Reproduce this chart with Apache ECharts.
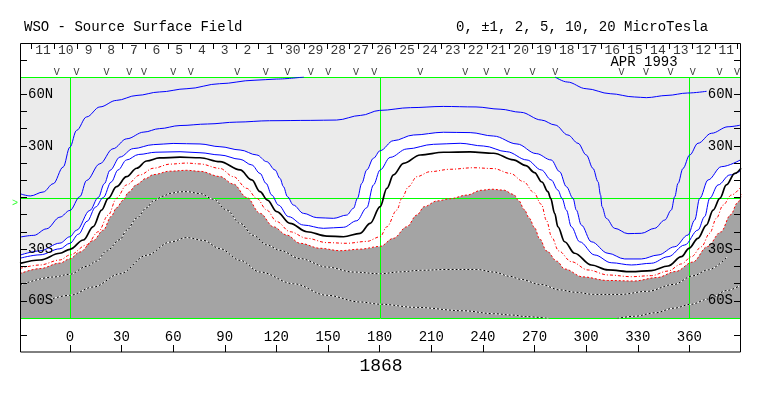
<!DOCTYPE html>
<html>
<head>
<meta charset="utf-8">
<title>WSO - Source Surface Field</title>
<script src="https://cdn.jsdelivr.net/npm/echarts@6/dist/echarts.min.js"></script>
<style>
  html, body { margin: 0; padding: 0; background: #fff; }
  #chart { width: 763px; height: 396px; }
</style>
</head>
<body>
<div id="chart"></div>
<script>
// contour lines, [carrington longitude, latitude]
var c10a = [[-29,2.2],[-23,0.9],[-15.5,3.2],[-9.7,8],[-3.9,17.7],[0,29.3],[3.9,39],[9.7,46.8],[17.4,52.6],[27,56.4],[39,59.3],[52,61.3],[68,63.2],[87,66.1],[107,68.1],[120,68.8],[136,70]];
var c10b = [[282,70],[289,67.1],[300,63.2],[314,60.3],[328,58.4],[335,58],[347,59.3],[359,60.7],[370,61.7]];
var c5 = [[-29,-23],[-21,-22],[-13.6,-18.2],[-5.8,-11.4],[0,-7.5],[5.8,0.5],[9.7,9.9],[17.4,19.6],[25,28.3],[33,34.1],[43,38],[52,40],[64,41.8],[80,42.7],[97,43.8],[116,44.6],[140,44.8],[155,45],[169,47.7],[180,50.6],[198,52.2],[217,52.9],[236,52.6],[250,51.3],[262,49.5],[274,45],[282,42.1],[289.4,36.3],[295.3,31.5],[300.1,24.7],[304,16.9],[306.9,9.2],[308.4,1.4],[309.2,-5.3],[311.7,-12.1],[316.6,-17.9],[324.3,-21],[332.1,-20.8],[339.8,-17.9],[345.7,-13.1],[349.5,-7.3],[351.5,0.5],[353.4,8.2],[356.3,16.9],[360.2,24.7],[365,31.5],[372.8,37.3],[382.5,41.1],[390,42.1]];
var c2 = [[-29,-33.5],[-17.4,-31],[-5.8,-26.5],[0,-22.8],[3.9,-19],[11.6,-7.5],[16.5,0],[20,8],[23.3,15.8],[29.1,23.5],[36.8,28.4],[48.5,30.7],[60,31.4],[75.6,31.1],[87.2,29.5],[98.9,27.6],[108.6,24.7],[114.4,20.8],[119.2,16],[122.1,11.1],[124.1,6.3],[126.4,0.5],[129.9,-4.4],[135.7,-9.2],[143.5,-11.7],[153.2,-12.1],[160.9,-10.2],[164.8,-6.3],[167.1,-0.5],[169.6,8.2],[172.5,16],[176.4,22.8],[180.3,27.2],[188,33],[199.7,36.3],[217.1,37.9],[232.6,37.7],[246.2,35.7],[259.8,31.1],[271,25.5],[279.7,21.8],[284.6,15],[288.5,6.3],[292.4,-0.5],[294.3,-7.3],[297.2,-16],[303,-25.7],[312.7,-32.4],[322.4,-35.7],[332.1,-35.7],[341.8,-33.4],[351.5,-28.6],[359.2,-21.8],[363.1,-13.1],[366,-0.5],[370.9,10.2],[378.6,17.9],[390,22]];
var c1 = [[-29,-35.3],[-17.4,-33.3],[-5.8,-29.8],[0,-26.6],[5,-21.3],[10,-13.8],[15,-5.5],[19.4,0],[24,9],[28,16],[32.9,21.8],[40,25],[50,26.3],[64,26.6],[75.6,26],[87.2,24.7],[98.9,22.2],[105.7,18.9],[110.5,14],[114,8.2],[117.3,1.4],[121.2,-4.4],[127,-11.1],[135.7,-16],[147.3,-17.9],[159,-17.3],[166.7,-13.5],[172.5,-6],[176.4,7.3],[180.3,16],[186.1,23.3],[195.8,28.2],[211.3,30.9],[226.8,31.5],[240.4,29.9],[253.9,26.6],[265.6,21.8],[274,16],[279.7,10.2],[283.6,4.3],[286,-0.5],[288.5,-7.3],[291.4,-17],[296.2,-25.7],[305,-33.4],[314.6,-37.9],[326.3,-39.2],[337.9,-38.2],[347.6,-34.4],[357.3,-27.6],[365,-18.9],[368.9,-11.1],[371.8,-0.5],[376.7,7.3],[383.5,13.1],[390,15.5]];
var c0 = [[-29,-38.3],[-17.4,-36.3],[-5.8,-32.4],[0,-30.1],[7.8,-24.7],[13.6,-16.9],[18.4,-7.3],[22.3,-0.5],[27.1,6.3],[32.9,12.1],[38.8,17],[44.6,21.2],[52,23],[64,23.4],[75.6,23.1],[87.2,20.8],[98.9,16],[105.7,10.2],[110.5,3.4],[114.8,-1.5],[120.2,-8.2],[128,-15],[137.7,-19.9],[149.3,-22.4],[159,-22.8],[168.7,-20.8],[174.5,-15],[180.3,-5.3],[184.2,5.3],[188,13.1],[193.9,19.8],[203.6,24.7],[217.1,26.3],[232.6,26.5],[246.2,25.7],[257.8,21.8],[265,18.5],[270,14.5],[274.3,9],[277.8,3.4],[279.4,-0.5],[281.7,-9.2],[283.6,-17],[287.5,-25.7],[293.3,-32.4],[303,-39.2],[312.7,-42.1],[326.3,-43.1],[337.9,-42.5],[347.6,-39.8],[355.4,-34.4],[359.8,-29.5],[365,-23.7],[369.9,-16],[373.8,-7.3],[377.7,-0.5],[381.5,7.3],[386.4,14],[390,17]];
var cm1 = [[-29,-41.2],[-17.4,-39.2],[-5.8,-36.3],[0,-33.4],[9.7,-27.6],[16.5,-19.9],[22.3,-10.2],[27.1,-0.5],[32.9,7.3],[40.7,13.1],[48.5,17],[58.2,19.4],[67.9,20],[75.6,19.5],[87.2,16.9],[95,12.1],[102.8,5.3],[108.6,-0.5],[114.4,-7.3],[120.2,-14],[128,-19.9],[137.7,-23.7],[149.3,-26.2],[160.9,-26.6],[172.5,-25.5],[180.3,-22.8],[184.2,-17],[190,-7.3],[192.9,-0.5],[196.8,6.3],[201.6,12.1],[209.4,15],[221,16.4],[234.6,17.3],[246.2,16.8],[255.9,14],[263.7,9.2],[269.5,3],[274,-4],[277,-13.5],[280,-23],[284,-31],[291.4,-37.3],[301.1,-42.1],[312.7,-45],[326.3,-46],[337.9,-45.4],[347.6,-42.7],[355.4,-38.6],[361.2,-34.4],[367,-28.6],[371.8,-20.8],[375.7,-12.1],[379.6,-4.4],[384.4,1.4],[390,6.3]];
var cm2 = [[-29,-44.2],[-17.4,-41.3],[-5.8,-38.1],[0,-35.6],[5.8,-31.7],[13.6,-25],[19.4,-19],[24,-11],[27.1,-6],[31,-1.5],[34,3],[38.8,7.5],[44,11],[48.5,13.3],[58.2,15.3],[67.9,15.8],[75.6,15.2],[87.2,12.2],[95,7.8],[102.8,0],[110.5,-9.2],[118.3,-17],[126,-21.8],[133.8,-26.6],[145.4,-29.5],[157,-30.9],[168.7,-30],[180.3,-28.4],[188,-23.7],[195.8,-17],[201.6,-10.2],[206,-5.3],[213.3,-2],[221,-0.7],[230.7,1.4],[239,4.2],[245,4.8],[252,4.3],[257.8,1.8],[261,-2],[264,-7],[267,-12],[270,-17.5],[273,-24],[277,-31],[283,-37],[287.5,-41.5],[298,-46.1],[312.4,-48.2],[328,-48.5],[341.2,-46.5],[352,-43],[362,-37.5],[370.5,-28.5],[378.3,-20],[384,-10],[388,-3],[390.5,2]];
var cm5 = [[-29,-50.9],[-9.7,-46.2],[0,-44.6],[9.7,-40],[15.5,-37],[21.3,-31],[29.1,-24.5],[33,-19],[38.8,-12],[44.6,-6],[48.5,-2],[54.3,0.8],[58.2,2.4],[64,3.3],[67.9,3.4],[75.6,2.3],[83.4,-1],[91.1,-7.3],[98.9,-15],[106.6,-22],[114.4,-27.5],[122.1,-30.7],[133.8,-35.5],[149.3,-40.4],[164.8,-43.3],[180.3,-44.3],[191.9,-43.2],[203.6,-42.3],[219.1,-41.8],[236.5,-41.8],[246.2,-43.3],[255.9,-45.8],[261.7,-47.5],[273.4,-50.5],[285,-53.7],[293.3,-55],[304.4,-56.3],[319.9,-56.3],[335.4,-54.5],[350.9,-50.5],[362,-45.5],[371,-42],[382,-34.5]];
var cm10a = [[-12,-59.3],[0,-56.8],[13.6,-52],[29.1,-44.3],[44.6,-33.6],[58.2,-25.9],[67.9,-23.3],[77.6,-24.9],[87.2,-29.7],[98.9,-36.5],[110.5,-43.3],[129.9,-50.1],[149.3,-56.8],[168.6,-60.7],[180.6,-62],[200.4,-63.8],[228.8,-65.8],[246.2,-67.5],[257.2,-68.3],[265,-69.2],[278.5,-70.3]];
var cm10b = [[318,-70.3],[328,-69],[340,-67],[351,-64.3],[361,-62],[371,-59],[381.9,-54],[390,-50.8]];

var lonTicks = [0, 30, 60, 90, 120, 150, 180, 210, 240, 270, 300, 330, 360];
var latTicks = [-60, -50, -40, -30, -20, -10, 0, 10, 20, 30, 40, 50, 60];
var latLabels = [-60, -30, 30, 60];
var greenLon = [0, 180, 360];
var greenLat = [70, 0, -70];
var b0Lat = -3.5;

// Carrington day ticks and the day numbers between them
var dayTicks = [-22.3,-9.0,4.3,17.4,30.6,43.7,56.9,70.1,83.3,96.5,109.7,122.9,136.1,149.3,162.6,175.9,189.3,202.6,215.9,229.2,242.4,255.6,268.9,282.2,295.4,308.6,321.8,335.1,348.3,361.6,374.8,388.0];
var dayLabels = ['11','10','9','8','7','6','5','4','3','2','1','30','29','28','27','26','25','24','23','22','21','20','19','18','17','16','15','14','13','12','11'];
// observation marks
var obsLon = [-7.7,3.9,21.3,34.5,43,60.1,70.2,97.3,113.8,126.4,140,150.2,166.2,176.8,203.6,229.8,241.9,254,268.9,282.1,320.5,334.8,349,361.9,377.5,387.7];

var mono = "'Liberation Mono', 'DejaVu Sans Mono', monospace";

function contour(data, color, width, type, z) {
    return {
        type: 'line', data: data, symbol: 'none', smooth: 0.35, smoothMonotone: 'x',
        z: z, silent: true, animation: false,
        lineStyle: { color: color, width: width, type: type }
    };
}
function area(data, color, origin) {
    return {
        type: 'line', data: data, symbol: 'none', smooth: 0.35, smoothMonotone: 'x',
        z: 1, silent: true, animation: false,
        lineStyle: { width: 0, opacity: 0 },
        areaStyle: { color: color, opacity: 1, origin: origin }
    };
}
function crisp(v) { return Math.round(v) + 0.5; }

var series = [
    area(c2, '#ebebeb', 'end'),
    area(cm2, '#a4a4a4', 'start'),
    {
        // green reference lines: meridians 0/180/360
        type: 'custom', z: 2, silent: true, animation: false,
        data: greenLon.map(function (g) { return [g]; }),
        renderItem: function (params, api) {
            var a = api.coord([api.value(0), 70]);
            var b = api.coord([api.value(0), -70]);
            var x = crisp(a[0]);
            return { type: 'line', shape: { x1: x, y1: a[1], x2: x, y2: b[1] }, style: { stroke: '#00ff00', lineWidth: 1 } };
        }
    },
    {
        // green reference lines: equator and plot edges
        type: 'custom', z: 2, silent: true, animation: false,
        data: greenLat.map(function (g) { return [g]; }),
        renderItem: function (params, api) {
            var a = api.coord([-29, api.value(0)]);
            var b = api.coord([390, api.value(0)]);
            var y = crisp(a[1]);
            return { type: 'line', shape: { x1: a[0], y1: y, x2: b[0], y2: y }, style: { stroke: '#00ff00', lineWidth: 1 } };
        }
    }
];

series.push(
    contour(c10a, '#0000ff', 1, 'solid', 3),
    contour(c10b, '#0000ff', 1, 'solid', 3),
    contour(c5, '#0000ff', 1, 'solid', 3),
    contour(c2, '#0000ff', 1, 'solid', 3),
    contour(c1, '#0000ff', 1, 'solid', 3),
    contour(c0, '#000000', 1.7, 'solid', 3),
    contour(cm1, '#ff0000', 1, [3, 2, 1, 2], 3),
    contour(cm2, '#ff0000', 1, [2, 2], 3),
    contour(cm5, '#ffffff', 1, 'solid', 3),
    contour(cm5, '#000000', 1, [2, 2], 4),
    contour(cm10a, '#ffffff', 1, 'solid', 3),
    contour(cm10a, '#000000', 1, [2, 2], 4),
    contour(cm10b, '#ffffff', 1, 'solid', 3),
    contour(cm10b, '#000000', 1, [2, 2], 4)
);

// B0 marker on the left edge
series.push({
    type: 'scatter', data: [[-29, b0Lat]], symbolSize: 0, clip: false, z: 5,
    silent: true, animation: false,
    label: { show: true, position: 'left', distance: 2, formatter: '>', color: '#00ff00', fontFamily: mono, fontSize: 10 }
});

// top band: day numbers and observation marks
var dayData = dayLabels.map(function (d, i) {
    return { name: d, value: [(dayTicks[i] + dayTicks[i + 1]) / 2, 0.79] };
});
series.push({
    type: 'scatter', xAxisIndex: 1, yAxisIndex: 2, data: dayData, symbolSize: 0,
    silent: true, animation: false,
    label: { show: true, position: 'inside', formatter: '{b}', color: '#000', fontFamily: mono, fontSize: 13 }
});
series.push({
    type: 'scatter', xAxisIndex: 1, yAxisIndex: 2,
    data: obsLon.map(function (l) { return [l, 0.13]; }), symbolSize: 0,
    silent: true, animation: false,
    label: { show: true, position: 'inside', formatter: 'V', color: '#000', fontFamily: mono, fontSize: 10 }
});

function latFmt(v) { return Math.abs(v) + (v > 0 ? 'N' : 'S'); }

var chart = echarts.init(document.getElementById('chart'), null, { renderer: 'canvas' });
chart.setOption({
    backgroundColor: '#ffffff',
    animation: false,
    grid: [
        { left: 20, right: 22, top: 77, height: 241 },
        { left: 20, right: 22, top: 43, height: 34 }
    ],
    xAxis: [
        {
            gridIndex: 0, type: 'value', min: -29, max: 390, position: 'bottom', offset: 34, z: 10,
            axisLine: { show: false, onZero: false },
            axisTick: { show: true, inside: true, length: 7, customValues: lonTicks, lineStyle: { color: '#000' } },
            axisLabel: { show: true, inside: true, margin: 8, customValues: lonTicks, color: '#000', fontFamily: mono, fontSize: 14 },
            splitLine: { show: false }
        },
        {
            gridIndex: 1, type: 'value', min: -29, max: 390, position: 'top', z: 10,
            axisLine: { show: false, onZero: false },
            axisTick: { show: true, inside: true, length: 6, customValues: dayTicks, lineStyle: { color: '#000' } },
            axisLabel: { show: false },
            splitLine: { show: false }
        }
    ],
    yAxis: [
        {
            gridIndex: 0, type: 'value', min: -70, max: 70, position: 'left', z: 10,
            axisLine: { show: false, onZero: false },
            axisTick: { show: true, inside: true, length: 7, customValues: latTicks, lineStyle: { color: '#000' } },
            axisLabel: { show: true, inside: true, margin: 8, customValues: latLabels, formatter: latFmt, color: '#000', fontFamily: mono, fontSize: 14 },
            splitLine: { show: false }
        },
        {
            gridIndex: 0, type: 'value', min: -70, max: 70, position: 'right', z: 10,
            axisLine: { show: false, onZero: false },
            axisTick: { show: true, inside: true, length: 7, customValues: latTicks, lineStyle: { color: '#000' } },
            axisLabel: { show: true, inside: true, margin: 8, customValues: latLabels, formatter: latFmt, color: '#000', fontFamily: mono, fontSize: 14 },
            splitLine: { show: false }
        },
        { gridIndex: 1, type: 'value', min: 0, max: 1, show: false }
    ],
    graphic: [
        { type: 'rect', shape: { x: 20.5, y: 43.5, width: 720, height: 308.5 }, style: { fill: null, stroke: '#000', lineWidth: 1 }, z: 10 },
        { type: 'line', shape: { x1: 20, y1: 60.5, x2: 27, y2: 60.5 }, style: { stroke: '#000', lineWidth: 1 }, z: 10 },
        { type: 'line', shape: { x1: 734, y1: 60.5, x2: 741, y2: 60.5 }, style: { stroke: '#000', lineWidth: 1 }, z: 10 },
        { type: 'line', shape: { x1: 20, y1: 335.5, x2: 27, y2: 335.5 }, style: { stroke: '#000', lineWidth: 1 }, z: 10 },
        { type: 'line', shape: { x1: 734, y1: 335.5, x2: 741, y2: 335.5 }, style: { stroke: '#000', lineWidth: 1 }, z: 10 },
        { type: 'text', x: 24, y: 27, style: { text: 'WSO - Source Surface Field', fill: '#000', font: '14px ' + mono, textVerticalAlign: 'middle' } },
        { type: 'text', x: 456, y: 27, style: { text: '0, \u00b11, 2, 5, 10, 20 MicroTesla', fill: '#000', font: '14px ' + mono, textVerticalAlign: 'middle' } },
        { type: 'text', x: 644, y: 62, style: { text: 'APR 1993', fill: '#000', font: '14px ' + mono, textAlign: 'center', textVerticalAlign: 'middle' } },
        { type: 'text', x: 381, y: 366, style: { text: '1868', fill: '#000', font: '18px ' + mono, textAlign: 'center', textVerticalAlign: 'middle' } }
    ],
    series: series
});
</script>
</body>
</html>
